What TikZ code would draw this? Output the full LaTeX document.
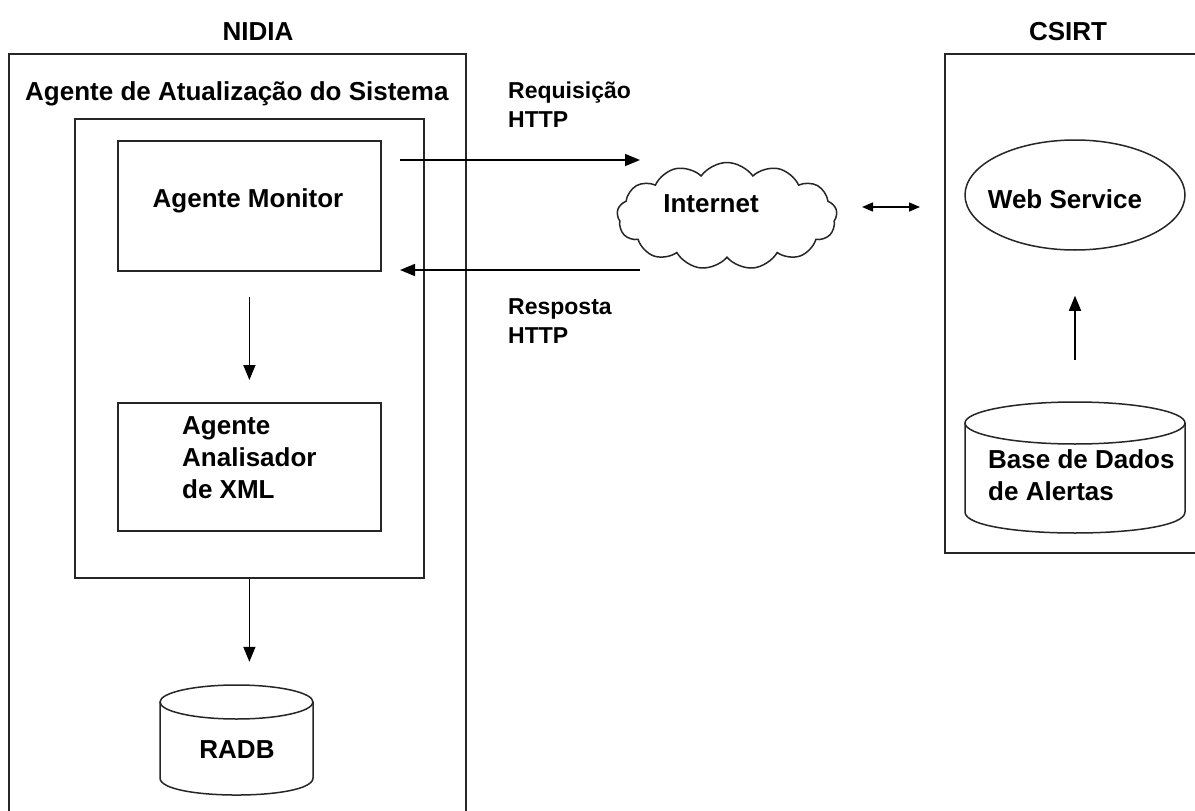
\documentclass[tikz,border=0pt]{standalone}
\usepackage{fontspec}
\setmainfont{Liberation Sans}
\usetikzlibrary{shapes.geometric,shapes.symbols,arrows.meta}
\begin{document}
\begin{tikzpicture}[x=1pt,y=-1pt,
  txt/.style={font=\fontsize{26}{32}\selectfont\bfseries,inner sep=0pt,align=left},
  smalltxt/.style={font=\fontsize{23}{29}\selectfont\bfseries,inner sep=0pt,align=left},
  box/.style={draw=black!85,line width=1.8pt,inner sep=0pt,anchor=north west},
  shp/.style={draw=black!85,line width=1.5pt},
  arr/.style={-{Triangle[length=15pt,width=12pt]},line width=1.5pt,draw=black},
  darr/.style={{Triangle[length=11pt,width=9pt]}-{Triangle[length=11pt,width=9pt]},line width=1.5pt,draw=black}]
\clip (0,0) rectangle (1195,811);
\fill[white] (0,0) rectangle (1195,811);

% NIDIA side
\node[box,minimum width=457pt,minimum height=800pt] (nidia) at (8,53) {};
\node[txt,anchor=base] (nidiat) at (258,40) {NIDIA};
\node[txt,anchor=base west] (agat) at (25,100) {Agente de Atualização do Sistema};
\node[box,minimum width=349pt,minimum height=459pt] (inner) at (74,118) {};
\node[box,minimum width=263pt,minimum height=130pt] (mon) at (117,140) {};
\node[txt,anchor=base] (mont) at (248,207) {Agente Monitor};
\node[box,minimum width=263pt,minimum height=128pt] (ana) at (117,402) {};
\node[txt,anchor=base west] (anat) at (182,498) {Agente\\Analisador\\de XML};

% RADB cylinder
\draw[shp] (160,702) -- (160,778) .. controls (160,800.7) and (313,800.7) .. (313,778) -- (313,702);
\draw[shp] (236.5,702) ellipse [x radius=76.5pt, y radius=17pt];
\node[inner sep=0pt,minimum width=153pt,minimum height=110pt] (radb) at (236.5,740) {};
\node[txt,anchor=base] (radbt) at (237,758) {RADB};

% Internet cloud
\node[shp,cloud,cloud puffs=13,cloud puff arc=110,aspect=2.05,minimum width=220pt,minimum height=107pt,inner sep=0pt] (inet) at (727,216) {};
\node[txt,anchor=base] (inett) at (711,212) {Internet};

\node[smalltxt,anchor=base west] (req) at (508,127) {Requisição\\HTTP};
\node[smalltxt,anchor=base west] (resp) at (508,343) {Resposta\\HTTP};

% CSIRT side
\node[box,minimum width=300pt,minimum height=499pt] (csirt) at (944,53) {};
\node[txt,anchor=base] (csirtt) at (1068,40) {CSIRT};
\node[shp,ellipse,minimum width=220pt,minimum height=110pt,inner sep=0pt] (ws) at (1075,195) {};
\node[txt,anchor=base] (wst) at (1065,208) {Web Service};

\draw[shp] (965,423) -- (965,512) .. controls (965,540) and (1185,540) .. (1185,512) -- (1185,423);
\draw[shp] (1075,423) ellipse [x radius=110pt, y radius=21pt];
\node[inner sep=0pt,minimum width=220pt,minimum height=131pt] (bd) at (1075,467.5) {};
\node[txt,anchor=base west] (bdt) at (988,500) {Base de Dados\\de Alertas};

% connectors
\coordinate (reqS) at (400,160);
\coordinate (reqE) at (640,160);
\coordinate (respS) at (640,270);
\coordinate (respE) at (400,270);
\coordinate (dS) at (862,207);
\coordinate (dE) at (920,207);
\draw[arr] (reqS) -- (reqE);
\draw[arr] (respS) -- (respE);
\draw[darr] (dS) -- (dE);
\draw[arr,shorten <=25pt,shorten >=22pt] (mon.south) -- (ana.north);
\draw[arr,shorten >=23pt] (inner.south) -- (inner.south |- radb.north);
\draw[arr,shorten <=42pt,shorten >=45pt] (bd.north) -- (ws.south);
\end{tikzpicture}
\end{document}
